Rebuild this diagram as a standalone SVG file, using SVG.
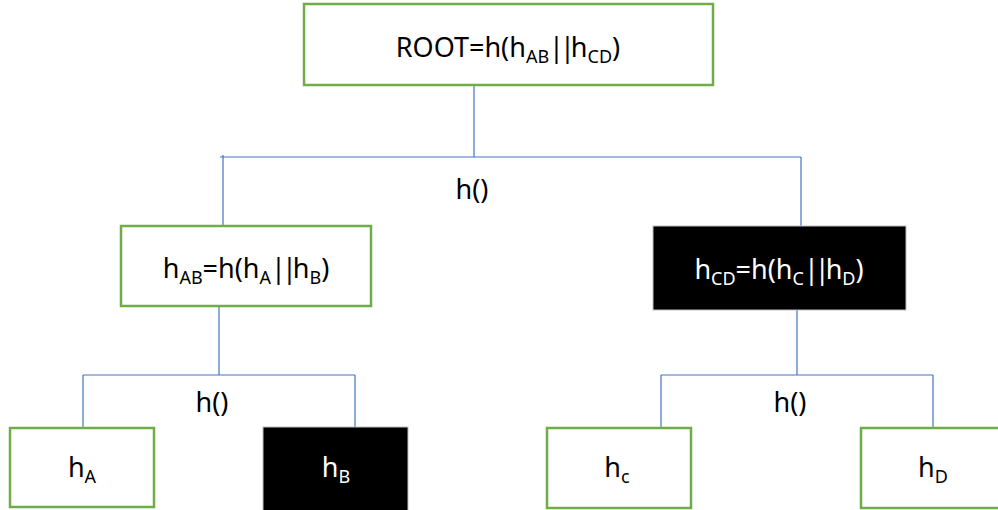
<svg xmlns="http://www.w3.org/2000/svg" width="998" height="510" viewBox="0 0 998 510">
<style>
.g{fill:#fff;stroke:#70AD47;stroke-width:2.5}
.b{fill:#000;stroke:#BFBFBF;stroke-width:1}
.c line{stroke:#4472C4;stroke-width:1.2}
text{font-family:"Noto Sans","Open Sans",sans-serif;font-size:27px;text-anchor:middle;fill:#000}
.w{fill:#fff}
.s{font-size:18px}
.p{letter-spacing:-4px}
</style>
<rect width="998" height="510" fill="#fff"/>
<g class="c" id="connectors">
<line x1="474" y1="85" x2="474" y2="157"/>
<line x1="220" y1="157" x2="801" y2="157"/>
<line x1="223" y1="155" x2="223" y2="226"/>
<line x1="801" y1="157" x2="801" y2="226"/>
<line x1="219" y1="306" x2="219" y2="375"/>
<line x1="83" y1="375" x2="355" y2="375"/>
<line x1="83" y1="375" x2="83" y2="428"/>
<line x1="355" y1="375" x2="355" y2="428"/>
<line x1="797" y1="310" x2="797" y2="375"/>
<line x1="661" y1="375" x2="933" y2="375"/>
<line x1="661" y1="375" x2="661" y2="428"/>
<line x1="933" y1="375" x2="933" y2="428"/>
</g>
<text x="472" y="199">h()</text>
<text x="212" y="412">h()</text>
<text x="790" y="412">h()</text>
<g id="root">
<rect class="g" x="304" y="4" width="409" height="81"/>
<text x="508" y="57">ROOT=h(h<tspan class="s" dy="6">AB</tspan><tspan class="p" dy="-6">||</tspan><tspan>h</tspan><tspan class="s" dy="6">CD</tspan><tspan dy="-6">)</tspan></text>
</g>
<g id="hAB">
<rect class="g" x="121" y="226" width="250" height="80"/>
<text x="246" y="278">h<tspan class="s" dy="6">AB</tspan><tspan dy="-6">=h(h</tspan><tspan class="s" dy="6">A</tspan><tspan class="p" dy="-6">||</tspan><tspan>h</tspan><tspan class="s" dy="6">B</tspan><tspan dy="-6">)</tspan></text>
</g>
<g id="hCD">
<rect class="b" x="653" y="226" width="253" height="84"/>
<text class="w" x="779" y="279">h<tspan class="s" dy="6">CD</tspan><tspan dy="-6">=h(h</tspan><tspan class="s" dy="6">C</tspan><tspan class="p" dy="-6">||</tspan><tspan>h</tspan><tspan class="s" dy="6">D</tspan><tspan dy="-6">)</tspan></text>
</g>
<g id="hA">
<rect class="g" x="10" y="428" width="144" height="79"/>
<text x="82" y="477">h<tspan class="s" dy="6">A</tspan></text>
</g>
<g id="hB">
<rect class="b" x="263" y="427" width="145" height="90" stroke="none"/>
<text class="w" x="336" y="477">h<tspan class="s" dy="6">B</tspan></text>
</g>
<g id="hc">
<rect class="g" x="547" y="428" width="144" height="80"/>
<text x="617" y="477">h<tspan class="s" dy="6">c</tspan></text>
</g>
<g id="hD">
<rect class="g" x="861" y="428" width="150" height="80"/>
<text x="933" y="477">h<tspan class="s" dy="6">D</tspan></text>
</g>
</svg>
